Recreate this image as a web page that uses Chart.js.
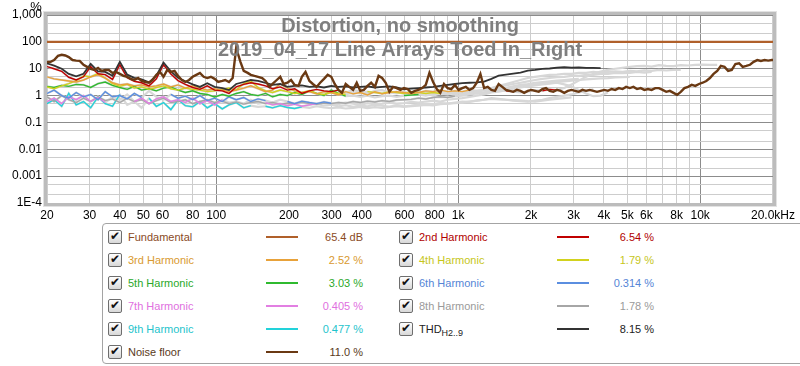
<!DOCTYPE html>
<html>
<head>
<meta charset="utf-8">
<script src="https://cdn.jsdelivr.net/npm/chart.js@4.4.1/dist/chart.umd.min.js"></script>
<style>
  html, body { margin: 0; padding: 0; background: #fff; }
  body { width: 800px; height: 366px; position: relative; overflow: hidden;
         font-family: "Liberation Sans", Arial, sans-serif; }
  #wrap { position: absolute; left: 0; top: 0; width: 800px; height: 222px; }
  #legendBox { position: absolute; left: 102px; top: 223px; width: 760px; height: 139px;
               border: 1px solid #a4a4a4; border-radius: 4px; }
  .chk { position: absolute; width: 12px; height: 12px; border: 1px solid #6e6e6e;
         border-radius: 2px; background: linear-gradient(#ffffff, #d8d8d8); }
  .chk::after { content: '\2714'; position: absolute; left: 1px; top: -2px;
                font: 12px "DejaVu Sans"; color: #111; }
  .lbl { position: absolute; font-size: 11px; line-height: 14px; white-space: nowrap; }
  .lbl sub { font-size: 9px; vertical-align: -3px; }
  .swatch { position: absolute; height: 2px; }
  .val { position: absolute; font-size: 11px; line-height: 14px; text-align: right; width: 80px; }
</style>
</head>
<body>
<div id="wrap"><canvas id="chart" width="800" height="222"></canvas></div>
<div id="legendBox"></div>
<div id="legend"></div>
<script>
/* ─────────────────────────────────────────────
   Distortion, no smoothing — REW style plot
   Stack: Chart.js 4 | log / log axes
───────────────────────────────────────────── */

// ── Frequency grids (Hz) ─────────────────────
// about 1/10 octave, used by THD and the harmonics
const FREQS = [
  20, 21.4, 23, 24.6, 26.4, 28.3, 30.3, 32.5, 34.8, 37.3,
  40, 42.9, 45.9, 49.2, 52.8, 56.6, 60.6, 65, 69.6, 74.6,
  80, 85.7, 91.9, 98.5, 106, 113, 121, 130, 139, 149,
  160, 171, 184, 197, 211, 226, 243, 260, 279, 299,
  320, 343, 368, 394, 422, 453, 485, 520, 557, 597,
  640, 686, 735, 788, 844, 905, 970, 1040, 1114, 1194,
  1280, 1372, 1470, 1576, 1689, 1810, 1940, 2079, 2229, 2389,
  2560, 2744, 2941, 3152, 3378, 3620, 3880, 4159, 4457, 4777,
  5120, 5487, 5881, 6303, 6756, 7241, 7760, 8317, 8914, 9554,
  10240, 10975, 11763, 12607, 13512, 14482, 15521, 16635, 17829, 19109,
  20000
];

// about 1/20 octave, used by the noise floor
const FREQS_FINE = [
  20, 20.7, 21.4, 22.2, 23, 23.8, 24.6, 25.5, 26.4, 27.3,
  28.3, 29.3, 30.3, 31.4, 32.5, 33.6, 34.8, 36, 37.3, 38.6,
  40, 41.4, 42.9, 44.4, 45.9, 47.6, 49.2, 51, 52.8, 54.6,
  56.6, 58.6, 60.6, 62.8, 65, 67.3, 69.6, 72.1, 74.6, 77.3,
  80, 82.8, 85.7, 88.8, 91.9, 95.1, 98.5, 102, 106, 109,
  113, 117, 121, 126, 130, 135, 139, 144, 149, 155,
  160, 166, 171, 178, 184, 190, 197, 204, 211, 219,
  226, 234, 243, 251, 260, 269, 279, 289, 299, 309,
  320, 331, 343, 355, 368, 381, 394, 408, 422, 437,
  453, 469, 485, 502, 520, 538, 557, 577, 597, 618,
  640, 663, 686, 710, 735, 761, 788, 816, 844, 874,
  905, 937, 970, 1004, 1040, 1076, 1114, 1153, 1194, 1236,
  1280, 1325, 1372, 1420, 1470, 1522, 1576, 1631, 1689, 1748,
  1810, 1874, 1940, 2009, 2079, 2153, 2229, 2307, 2389, 2473,
  2560, 2650, 2744, 2841, 2941, 3045, 3152, 3263, 3378, 3497,
  3620, 3748, 3880, 4017, 4159, 4305, 4457, 4614, 4777, 4945,
  5120, 5300, 5487, 5681, 5881, 6088, 6303, 6525, 6756, 6994,
  7241, 7496, 7760, 8034, 8317, 8610, 8914, 9228, 9554, 9891,
  10240, 10601, 10975, 11362, 11763, 12177, 12607, 13051, 13512, 13988,
  14482, 14992, 15521, 16069, 16635, 17222, 17829, 18458, 19109, 19783,
  20000
];

// ── Series values (%) ────────────────────────
const FUND_FREQS  = [20, 20000];
const FUND_VALUES = [100, 100];

const NOISE_FLOOR = [
  18, 18, 21, 30, 33, 31, 27, 21, 20, 19.5,
  14, 11.7, 9.8, 9.0, 10.7, 8.3, 9.0, 9.0, 7.0, 7.6,
  6.4, 5.4, 5.0, 4.2, 3.8, 4.5, 3.5, 3.2, 3.0, 3.8,
  5.9, 7.6, 5.0, 9.0, 7.6, 8.3, 5.4, 3.8, 3.2, 3.8,
  5.0, 5.9, 7.0, 5.0, 4.5, 5.0, 4.2, 3.2, 3.5, 3.8,
  3.2, 4.5, 59, 18, 8.3, 7.0, 5.9, 5.4, 5.0, 4.5,
  3.5, 2.1, 2.7, 3.8, 5.0, 2.7, 3.0, 3.8, 2.5, 2.3,
  5.0, 7.6, 3.5, 2.7, 2.1, 3.0, 4.2, 5.9, 5.0, 2.7,
  1.63, 1.26, 2.7, 2.1, 1.63, 3.0, 1.5, 1.63, 2.3, 3.0,
  2.1, 5.4, 4.5, 3.0, 1.38, 2.1, 1.9, 1.63, 1.9, 1.75,
  1.26, 1.5, 1.63, 1.9, 2.5, 7.0, 3.2, 1.75, 1.26, 2.7,
  1.9, 1.75, 2.5, 1.63, 1.9, 2.1, 1.63, 1.9, 3.0, 6.4,
  1.9, 2.1, 1.63, 1.5, 2.7, 2.1, 1.63, 1.5, 1.38, 1.63,
  1.5, 1.26, 1.5, 1.63, 1.5, 1.38, 1.75, 1.9, 1.5, 1.38,
  1.63, 1.5, 1.26, 1.5, 1.63, 1.5, 1.38, 1.63, 1.5, 1.63,
  1.5, 1.38, 1.5, 1.63, 1.5, 1.75, 1.63, 1.9, 1.75, 2.1,
  1.9, 2.1, 1.75, 1.9, 1.63, 1.75, 1.63, 1.9, 1.9, 1.63,
  1.38, 1.5, 1.26, 1.06, 1.38, 1.9, 2.1, 2.5, 2.3, 2.7,
  3.0, 3.5, 4.5, 6.4, 8.3, 12.7, 11.7, 8.3, 9.0, 15,
  16, 11.7, 12.7, 14, 18, 21, 19.5, 21, 20, 21,
  21
];

const THD = [
  16, 13, 10, 6.4, 5.2, 6.5, 15, 8, 7.6, 5.5,
  18, 6, 4.6, 4.0, 3.1, 5.5, 17, 8, 4.6, 3.4,
  2.6, 2.1, 2.9, 2.1, 1.9, 1.6, 2.7, 3.2, 3.8, 3.5,
  3.0, 2.5, 2.7, 2.1, 2.3, 2.4, 2.1, 2.2, 2.0, 2.3,
  2.1, 2.2, 2.0, 2.1, 2.2, 2.0, 2.1, 2.2, 2.0, 1.7,
  1.8, 1.9, 2.0, 2.1, 2.3, 2.5, 2.7, 2.9, 3.0, 3.1,
  3.3, 4.2, 5.5, 6.0, 6.6, 7.2, 8.5, 9.0, 9.8, 10.2,
  11, 11.5, 11, 11.2, 10.7, 10.7, 10.5
];

const H2 = [
  12, 10, 8, 4.8, 3.8, 5.0, 12, 6.5, 6.0, 4.0,
  14, 4.6, 3.4, 3.0, 2.3, 4.2, 14, 6.4, 3.6, 2.6,
  2.0, 1.7, 2.3, 1.6, 1.5, 1.2, 2.1, 2.6, 3.0, 2.7,
  2.3, 1.8, 2.1, 1.6, 1.8, 1.2, 1.5, 1.7, 1.5, 1.4,
  1.6, 1.3, 1.6, 1.4, 1.2, 1.5, 1.6, 1.3, 1.2, 1.4,
  1.1, 1.3, 1.2, 1.0, 1.2, 1.1, 1.3, 1.1, 1.2, 1.4,
  1.3, 1.5, 1.6, 1.5, 1.4, 1.3, 1.4, 1.6, 1.5, 1.7,
  1.6, 1.9, 2.6, 3.6, 5.0, 6.5, 7.8, 9.0, 10, 10.8,
  11.7, 12.4, 12.8, 12, 13.5, 12.8, 12.4, 13.6, 13.2, 13.8,
  14.2, 13.8, 14
];

const H3 = [
  5.0, 4.2, 3.8, 3.5, 3.2, 3.8, 5.0, 5.9, 4.5, 3.0,
  2.5, 2.7, 2.3, 2.5, 2.1, 2.3, 2.7, 2.1, 2.5, 1.9,
  2.3, 1.9, 1.6, 1.8, 1.6, 1.4, 1.6, 1.9, 2.3, 1.8,
  1.4, 1.6, 2.7, 1.9, 1.5, 1.3, 1.4, 1.16, 1.4, 1.3,
  1.06, 1.4, 1.16, 1.3, 1.06, 1.4, 1.16, 1.3, 1.4, 1.3,
  1.16, 1.3, 1.5, 1.4, 1.6, 1.4, 1.5, 1.4, 1.6, 1.5,
  1.6, 1.9, 2.3, 2.7, 3.2, 3.8, 4.5, 5.0, 5.4, 5.9,
  6.0, 6.4, 6.4, 7.0, 7.0, 7.6, 7.2, 7.6, 8.0, 7.6,
  8.3, 8.0, 8.6, 8.3, 9.0, 8.6, 9.0, 9.0
];

const H4 = [
  2.1, 1.8, 2.3, 2.8, 3.6, 5.4, 5.0, 6.6, 4.5, 2.8,
  2.2, 2.6, 1.9, 2.1, 1.7, 2.0, 2.3, 1.8, 1.6, 1.9,
  1.7, 1.6, 1.4, 1.5, 1.7, 1.9, 1.6, 2.8, 3.5, 2.0,
  1.5, 1.3, 1.6, 1.4, 1.2, 1.3, 1.5, 1.2, 1.1, 1.3,
  1.2, 1.1, 1.3, 1.2, 1.4, 1.3, 1.2, 1.4, 1.3, 1.2,
  1.4, 1.3, 1.2, 1.3, 1.2, 1.3, 1.2, 1.3, 1.4, 1.5,
  1.6, 1.8, 2.1, 2.4, 2.7, 3.0, 3.4, 3.8, 4.2, 4.5,
  4.8, 5.0, 5.4, 5.4, 5.9, 5.9, 6.4, 6.4, 7.0, 6.8,
  7.0, 7.6, 7.2, 7.6
];

const H5 = [
  2.2, 2.0, 2.4, 2.2, 2.6, 2.5, 2.0, 2.8, 3.2, 2.4,
  2.0, 1.7, 2.2, 1.6, 1.8, 1.5, 1.9, 2.1, 1.6, 1.3,
  1.5, 1.2, 1.1, 0.89, 1.1, 0.95, 1.2, 1.4, 1.1, 1.0,
  1.2, 0.9, 1.1, 1.0, 1.3, 1.1, 1.5, 1.2, 1.0, 1.6,
  1.2, 0.95, 1.0, 0.9, 1.0, 0.85, 0.95, 1.0, 0.9, 1.0,
  1.05, 1.1, 1.0, 1.15, 1.25, 1.3, 1.1, 1.25, 1.4, 1.2,
  1.3, 1.5, 1.7, 1.9, 2.1, 2.3, 2.5, 2.6, 2.8, 3.0,
  3.2, 3.4, 3.6, 3.8, 4.0, 4.2, 4.4, 4.5, 4.7, 4.9,
  5.0
];

const H6 = [
  1.2, 1.6, 1.0, 0.8, 1.3, 0.9, 1.1, 0.7, 1.4, 0.9,
  1.0, 0.75, 1.2, 0.85, 1.5, 0.9, 0.7, 1.1, 0.8, 0.95,
  0.7, 1.0, 0.65, 0.8, 0.6, 0.9, 0.7, 0.85, 0.6, 0.75,
  0.65, 0.55, 0.7, 0.6, 0.5, 0.62, 0.55, 0.5, 0.58, 0.52,
  0.48, 0.55, 0.5, 0.45, 0.52, 0.47, 0.5, 0.55, 0.5, 0.52,
  0.58, 0.55, 0.6, 0.65, 0.6, 0.7, 0.75, 0.8, 0.9, 1.0,
  1.1, 1.3, 1.4, 1.6, 1.8, 2.0, 2.2, 2.4, 2.6, 2.8,
  3.0, 2.6, 2.2, 1.6, 1.2, 0.95, 1.0, 1.3
];

const H7 = [
  0.6, 0.8, 0.5, 0.9, 0.7, 1.0, 0.6, 0.85, 0.55, 0.9,
  0.7, 1.1, 0.6, 0.8, 0.5, 0.75, 0.9, 0.6, 0.7, 0.55,
  0.8, 0.5, 0.65, 0.45, 0.7, 0.55, 0.6, 0.5, 0.7, 0.5,
  0.55, 0.45, 0.5, 0.42, 0.48, 0.4, 0.45, 0.5, 0.42, 0.46,
  0.4, 0.44, 0.38, 0.42, 0.4, 0.45, 0.42, 0.38, 0.44, 0.4,
  0.42, 0.46, 0.5, 0.48, 0.52, 0.5, 0.55, 0.6, 0.58, 0.65,
  0.7, 0.8, 0.75, 0.7, 0.65, 0.62, 0.6, 0.65, 0.7, 0.8,
  0.9, 1.0, 1.1, 1.3, 1.5, 1.7
];

const H8 = [
  0.9, 0.6, 1.0, 0.7, 0.55, 0.8, 0.6, 0.9, 0.65, 0.75,
  0.55, 0.8, 0.6, 0.7, 0.5, 0.65, 0.8, 0.55, 0.6, 0.7,
  0.5, 0.6, 0.7, 0.55, 0.62, 0.5, 0.58, 0.48, 0.55, 0.6,
  0.5, 0.55, 0.48, 0.52, 0.5, 0.56, 0.5, 0.47, 0.53, 0.5,
  0.55, 0.52, 0.6, 0.55, 0.62, 0.58, 0.65, 0.6, 0.68, 0.7,
  0.72, 0.8, 0.75, 0.85, 0.9, 0.85, 0.95, 1.0, 1.1, 1.2,
  1.3, 1.5, 1.7, 1.9, 2.2, 2.5, 2.7, 3.0, 3.2, 3.4,
  3.6, 3.8, 4.0, 4.2
];

const H9 = [
  0.5, 0.7, 0.4, 1.2, 0.45, 0.6, 0.35, 0.9, 0.5, 0.4,
  1.1, 0.45, 0.6, 0.35, 0.8, 0.4, 0.55, 0.3, 0.7, 0.42,
  0.38, 0.6, 0.35, 0.5, 0.32, 0.45, 0.55, 0.35, 0.42, 0.38,
  0.4, 0.35, 0.42, 0.36, 0.33, 0.38, 0.35, 0.4, 0.36, 0.34,
  0.36, 0.33, 0.35, 0.38, 0.34, 0.37, 0.35, 0.38, 0.4, 0.38,
  0.4, 0.42, 0.45, 0.43, 0.48, 0.5, 0.52, 0.55, 0.6, 0.65,
  0.7, 0.75, 0.72, 0.7, 0.68, 0.65, 0.62, 0.6, 0.65, 0.7,
  0.75, 0.8, 0.85
];

// Frequency spans (Hz) where each harmonic is drawn in colour, faded elsewhere
const H2_LIT = [[20, 330], [440, 470], [1500, 1700], [2200, 2700]];
const H3_LIT = [[20, 1150]];
const H4_LIT = [[20, 350], [400, 900]];
const H5_LIT = [[20, 350], [580, 700]];
const H6_LIT = [[20, 50], [62, 160], [190, 300]];
const H7_LIT = [[20, 36], [45, 110], [150, 260]];
const H8_LIT = [[20, 1000]];
const H9_LIT = [[20, 40], [50, 140], [160, 230]];

// ── Axes ─────────────────────────────────────
const X_GRID = [20, 30, 40, 50, 60, 70, 80, 90, 100, 200, 300, 400, 500, 600, 700, 800, 900,
                1000, 2000, 3000, 4000, 5000, 6000, 7000, 8000, 9000, 10000, 20000];
const X_TICKS       = [20, 30, 40, 50, 60, 80, 100, 200, 300, 400, 600, 800,
                       1000, 2000, 3000, 4000, 5000, 6000, 8000, 10000, 20000];
const X_TICK_LABELS = ['20', '30', '40', '50', '60', '80', '100', '200', '300', '400', '600', '800',
                       '1k', '2k', '3k', '4k', '5k', '6k', '8k', '10k', '20.0kHz'];

const Y_GRID = [1e-4, 2e-4, 5e-4, 0.001, 0.002, 0.005, 0.01, 0.02, 0.05, 0.1, 0.2, 0.5,
                1, 2, 5, 10, 20, 50, 100, 200, 500, 1000];
const Y_TICKS       = [1e-4, 0.001, 0.01, 0.1, 1, 10, 100, 1000];
const Y_TICK_LABELS = ['1E-4', '0.001', '0.01', '0.1', '1', '10', '100', '1,000'];

const TITLE = ['Distortion, no smoothing', '2019_04_17 Line Arrays Toed In_Right'];

// ── Legend ───────────────────────────────────
const SERIES_NAMES  = ['Fundamental', '2nd Harmonic', '3rd Harmonic', '4th Harmonic', '5th Harmonic',
                       '6th Harmonic', '7th Harmonic', '8th Harmonic', '9th Harmonic',
                       'THD<sub>H2..9</sub>', 'Noise floor'];
const SERIES_VALUES = ['65.4 dB', '6.54 %', '2.52 %', '1.79 %', '3.03 %', '0.314 %',
                       '0.405 %', '1.78 %', '0.477 %', '8.15 %', '11.0 %'];
const LINE_COLORS   = ['#b0602a', '#c00000', '#e8a23a', '#d2d21e', '#2fba2f', '#5b8ee0',
                       '#e27fe2', '#a6a6a6', '#22d2da', '#333333', '#6a3913'];
const TEXT_COLORS   = ['#8a4a1e', '#b00000', '#d99a30', '#c6c61a', '#2aa82a', '#5585d6',
                       '#e070e0', '#9a9a9a', '#1ec4cc', '#222222', '#5a3a22'];
const FADED = '#d7d7d7';

// ── Helpers ──────────────────────────────────
function isLit(f, spans) {
  return spans.some(([a, b]) => f >= a && f <= b);
}

function points(values, spans, freqs = FREQS) {
  return values.map((v, i) => ({
    x: freqs[i],
    y: (!spans || isLit(freqs[i], spans)) ? v : null
  }));
}

function lineSet(data, color, width, order) {
  return { data, borderColor: color, borderWidth: width, order,
           pointRadius: 0, fill: false, tension: 0, spanGaps: false };
}

// ── Datasets ─────────────────────────────────
const HARMONICS = [
  [H2, H2_LIT, 1], [H3, H3_LIT, 2], [H4, H4_LIT, 3], [H5, H5_LIT, 4],
  [H6, H6_LIT, 5], [H7, H7_LIT, 6], [H8, H8_LIT, 7], [H9, H9_LIT, 8]
];

const datasets = [];
datasets.push(lineSet(points(NOISE_FLOOR, null, FREQS_FINE), LINE_COLORS[10], 2.4, 0));
datasets.push(lineSet(points(THD), LINE_COLORS[9], 1.8, 1));
datasets.push(lineSet(FUND_FREQS.map((f, i) => ({ x: f, y: FUND_VALUES[i] })), LINE_COLORS[0], 2.2, 2));
HARMONICS.forEach(([vals, spans, k]) => {
  datasets.push(lineSet(points(vals, spans), LINE_COLORS[k], 1.4, 3));
});
HARMONICS.forEach(([vals]) => {
  datasets.push(lineSet(points(vals), FADED, 2.2, 4));
});

// ── Plugin: frame, title, unit ───────────────
const decorations = {
  id: 'decorations',
  afterDatasetsDraw(chart) {
    const { ctx } = chart;
    ctx.save();
    ctx.font = 'bold 20px "Liberation Sans", Arial, sans-serif';
    ctx.fillStyle = '#7f7f7f';
    ctx.textAlign = 'center';
    ctx.textBaseline = 'alphabetic';
    ctx.fillText(TITLE[0], 400, 32);
    ctx.fillText(TITLE[1], 400, 56);
    ctx.restore();
  },
  afterDraw(chart) {
    const { ctx, chartArea: a } = chart;
    ctx.save();
    ctx.strokeStyle = '#bcbcbc';
    ctx.lineWidth = 3;
    ctx.strokeRect(a.left - 1.5, a.top - 1.5, a.right - a.left + 3, a.bottom - a.top + 3);
    ctx.strokeStyle = '#e2e2e2';
    ctx.lineWidth = 1;
    ctx.strokeRect(a.left - 3.5, a.top - 3.5, a.right - a.left + 7, a.bottom - a.top + 7);
    ctx.font = '13px "Liberation Sans", Arial, sans-serif';
    ctx.fillStyle = '#000';
    ctx.textAlign = 'center';
    ctx.fillText('%', 36, 11);
    ctx.restore();
  }
};

const isDecade = v => Math.abs(Math.log10(v) - Math.round(Math.log10(v))) < 1e-6;
const FONT = { family: '"Liberation Sans", Arial, sans-serif', size: 12 };

new Chart(document.getElementById('chart').getContext('2d'), {
  type: 'line',
  data: { datasets },
  plugins: [decorations],
  options: {
    responsive: false,
    animation: false,
    layout: { padding: { top: 15, right: 23, left: 0, bottom: 0 } },
    plugins: { legend: { display: false }, tooltip: { enabled: false } },
    scales: {
      x: {
        type: 'logarithmic',
        min: 20,
        max: 20000,
        afterBuildTicks: s => { s.ticks = X_GRID.map(v => ({ value: v })); },
        afterFit: s => { s.height = 19; },
        border: { display: false },
        grid: {
          drawTicks: false,
          color: c => isDecade(c.tick.value) ? '#8c8c8c' : '#cdcdcd'
        },
        ticks: {
          autoSkip: false, maxRotation: 0, padding: 5, color: '#000', font: FONT,
          callback: v => { const i = X_TICKS.indexOf(v); return i < 0 ? '' : X_TICK_LABELS[i]; }
        }
      },
      y: {
        type: 'logarithmic',
        min: 1e-4,
        max: 1000,
        afterBuildTicks: s => { s.ticks = Y_GRID.map(v => ({ value: v })); },
        afterFit: s => { s.width = 47; },
        border: { display: false },
        grid: {
          drawTicks: false,
          color: c => isDecade(c.tick.value) ? '#8c8c8c' : '#cdcdcd'
        },
        ticks: {
          autoSkip: false, padding: 5, color: '#000', font: FONT,
          callback: v => { const i = Y_TICKS.indexOf(v); return i < 0 ? '' : Y_TICK_LABELS[i]; }
        }
      }
    }
  }
});

// ── Build legend rows ────────────────────────
function buildLegend() {
  const host = document.getElementById('legend');
  const colX = [[108, 128, 266, 283], [399, 419, 557, 574]];   // check, label, swatch, value box
  SERIES_NAMES.forEach((name, k) => {
    const [cx, lx, sx, vx] = colX[k % 2];
    const cy = 237 + 23 * Math.floor(k / 2);
    host.insertAdjacentHTML('beforeend', `
      <div class="chk" style="left:${cx}px;top:${cy - 7}px"></div>
      <div class="lbl" style="left:${lx}px;top:${cy - 7}px;color:${TEXT_COLORS[k]}">${name}</div>
      <div class="swatch" style="left:${sx}px;top:${cy - 1}px;width:32px;background:${LINE_COLORS[k]}"></div>
      <div class="val" style="left:${vx}px;top:${cy - 7}px;color:${TEXT_COLORS[k]}">${SERIES_VALUES[k]}</div>
    `);
  });
}
buildLegend();
</script>
</body>
</html>
